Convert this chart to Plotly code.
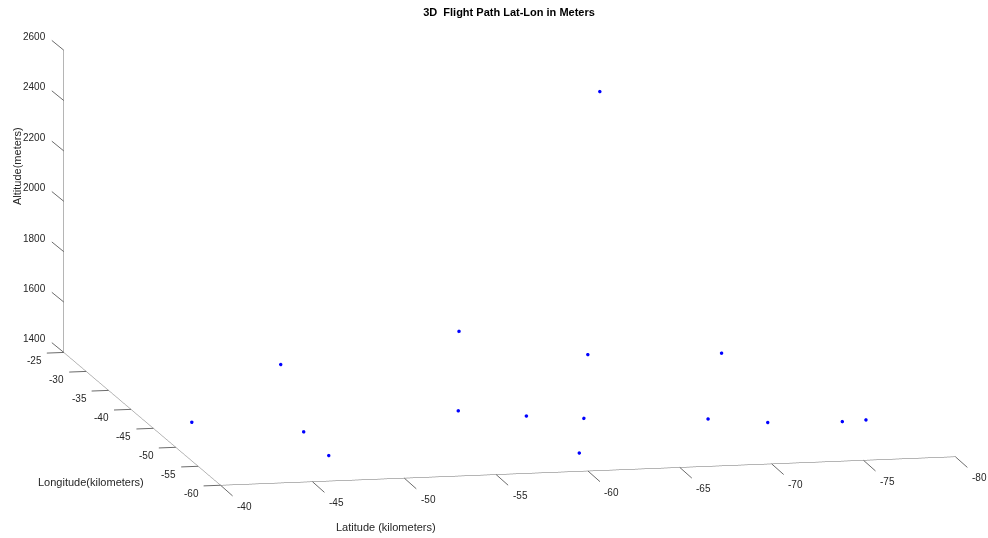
import plotly.graph_objects as go

# Flight path samples: latitude / longitude offsets in km, altitude in m
lat_km = [-41.6, -47.3, -47.3, -49.0, -55.4, -58.0, -59.4, -60.7,
          -60.5, -62.5, -68.3, -67.9, -71.1, -71.1, -75.5, -77.3]
lon_km = [-47.0, -48.6, -54.2, -36.5, -49.9, -39.4, -48.7, -56.2,
          -56.0, -49.7, -28.6, -54.4, -44.3, -54.6, -53.2, -51.1]
alt_m = [1450, 1420, 1410, 1500, 1500, 1650, 1450, 1550,
         1410, 1700, 2410, 1500, 1600, 1480, 1450, 1420]

lat_ticks = [-80, -75, -70, -65, -60, -55, -50, -45, -40]
lon_ticks = [-60, -55, -50, -45, -40, -35, -30, -25]
alt_ticks = [1400, 1600, 1800, 2000, 2200, 2400, 2600]

lat_range = [-40, -80]
lon_range = [-60, -25]
alt_range = [1400, 2600]

FONT = "Liberation Sans, Arial, Helvetica, sans-serif"
TXT = "#262626"
LINE = "#6b6b6b"

fig = go.Figure(
    go.Scatter3d(
        x=lat_km, y=lon_km, z=alt_m,
        mode="markers",
        marker=dict(size=2, color="#0000ff", line=dict(width=0)),
        hoverinfo="x+y+z",
    )
)


def axis(rng):
    return dict(
        range=rng,
        title=dict(text=""),
        showgrid=False,
        zeroline=False,
        showbackground=False,
        showspikes=False,
        showline=True,
        linecolor=LINE,
        linewidth=1,
        ticks="",
        showticklabels=False,
    )


# Tick marks and tick labels, anchored on the axis edges in data space
def tick(x, y, z, ax, ay):
    return dict(x=x, y=y, z=z, text="", showarrow=True, arrowhead=0,
                arrowwidth=1, arrowcolor=LINE, ax=ax, ay=ay,
                standoff=0, startstandoff=0)


def label(x, y, z, text, xanchor, xshift, yshift):
    return dict(x=x, y=y, z=z, text=text, showarrow=False,
                xanchor=xanchor, yanchor="middle", xshift=xshift,
                yshift=yshift, borderpad=0, borderwidth=0,
                font=dict(family=FONT, size=10, color=TXT))


scene_ann = []
for t in lat_ticks:
    scene_ann.append(tick(t, lon_range[0], alt_range[0], 13.5, 12))
    scene_ann.append(label(t, lon_range[0], alt_range[0], str(t),
                           "left", 16.5, -21))
for t in lon_ticks:
    scene_ann.append(tick(lat_range[0], t, alt_range[0], -18.5, 0.7))
    scene_ann.append(label(lat_range[0], t, alt_range[0], str(t),
                           "right", -22, -7.8))
for t in alt_ticks:
    scene_ann.append(tick(lat_range[0], lon_range[1], t, -13.5, -11))
    scene_ann.append(label(lat_range[0], lon_range[1], t, str(t),
                           "right", -17.5, 13.6))

L = 8.0
eye_dir = (-0.2058, -0.9617, 0.1813)
ctr = (-0.0602, 0.0133, 0.0019)
S = 2.97

fig.update_layout(
    width=988,
    height=538,
    margin=dict(l=0, r=0, t=0, b=0),
    paper_bgcolor="white",
    showlegend=False,
    title=dict(
        text="<b>3D\u00a0 Flight Path Lat-Lon in Meters</b>",
        x=509 / 988, xanchor="center",
        y=1 - 12 / 538, yanchor="middle",
        font=dict(family=FONT, size=11, color="#000000"),
    ),
    scene=dict(
        domain=dict(x=[0.0, 1.0], y=[0.0595, 1.0]),
        xaxis=axis(lat_range),
        yaxis=axis(lon_range),
        zaxis=axis(alt_range),
        aspectmode="manual",
        aspectratio=dict(x=1.0 * S, y=0.997 * S, z=0.409 * S),
        camera=dict(
            projection=dict(type="orthographic"),
            up=dict(x=0, y=0, z=1),
            center=dict(x=ctr[0], y=ctr[1], z=ctr[2]),
            eye=dict(x=ctr[0] + eye_dir[0] * L,
                     y=ctr[1] + eye_dir[1] * L,
                     z=ctr[2] + eye_dir[2] * L),
        ),
        bgcolor="white",
        annotations=scene_ann,
    ),
    annotations=[
        dict(text="Latitude (kilometers)", x=386 / 988, y=(538 - 527) / 538,
             xref="paper", yref="paper", showarrow=False,
             xanchor="center", yanchor="middle",
             font=dict(family=FONT, size=11, color=TXT)),
        dict(text="Longitude(kilometers)", x=90.5 / 988, y=(538 - 482) / 538,
             xref="paper", yref="paper", showarrow=False,
             xanchor="center", yanchor="middle",
             font=dict(family=FONT, size=11, color=TXT)),
        dict(text="Altitude(meters)", x=17 / 988, y=(538 - 166) / 538,
             xref="paper", yref="paper", showarrow=False, textangle=-90,
             xanchor="center", yanchor="middle",
             font=dict(family=FONT, size=11, color=TXT)),
    ],
)

fig.write_html("out.html", config={"displayModeBar": False})
